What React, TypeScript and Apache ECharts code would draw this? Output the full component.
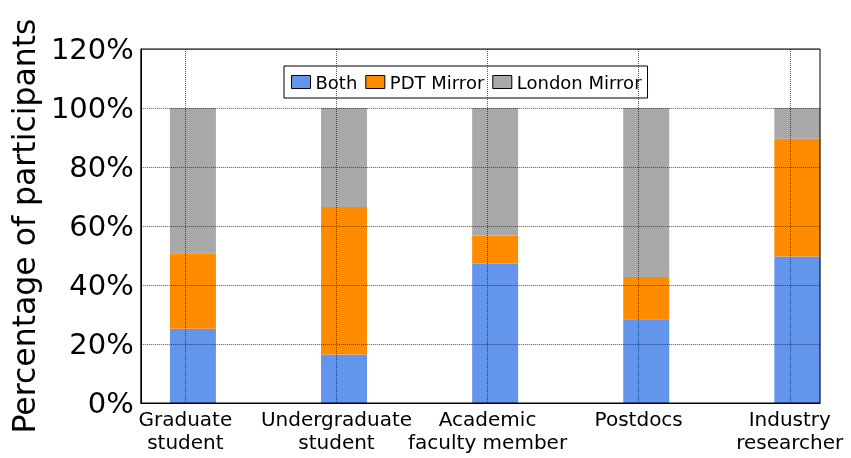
import React, { useEffect, useRef } from "react";
import * as echarts from "echarts";

const categories = ["Graduate\nstudent", "Undergraduate\nstudent", "Academic\nfaculty member", "Postdocs", "Industry\nresearcher"];
const positions = [0, 1, 2, 3, 4];
const both = [25.2, 16.4, 47.3, 28.4, 49.7];
const pdtMirror = [25.6, 50.0, 9.5, 14.3, 39.9];
const londonMirror = [49.2, 33.6, 43.2, 57.3, 10.4];
const yTicks = [0, 20, 40, 60, 80, 100, 120];

const FONT = "DejaVu Sans";
const BAR_SHIFT = 0.05;

export default function App() {
  const ref = useRef<HTMLDivElement>(null);
  useEffect(() => {
    if (!ref.current) return;
    const chart = echarts.init(ref.current, null, { renderer: "svg" });
    const mk = (name: string, vals: number[], color: string) => ({
      name,
      type: "bar",
      stack: "total",
      barWidth: 46,
      itemStyle: { color },
      encode: { x: 1, y: 0 },
      data: vals.map((v, i) => [v, positions[i] + BAR_SHIFT]),
    });
    const gridLine = { show: true, lineStyle: { color: "#222", type: [1, 1], width: 1, opacity: 0.75 } };
    chart.setOption({
      animation: false,
      textStyle: { fontFamily: FONT },
      grid: {
        left: 137.5,
        top: 49,
        right: 31,
        bottom: 55,
        show: true,
        borderColor: "#000",
        borderWidth: 1,
        z: 6,
      },
      legend: {
        left: 284,
        top: 66,
        orient: "horizontal",
        itemWidth: 19,
        itemHeight: 13,
        itemGap: 8,
        padding: [7, 6, 7, 7],
        backgroundColor: "#fff",
        borderColor: "#000",
        borderWidth: 1,
        borderRadius: 0,
        icon: "rect",
        textStyle: { fontFamily: FONT, fontSize: 18, color: "#000", lineHeight: 18 },
        itemStyle: { borderColor: "#000", borderWidth: 1 },
        data: ["Both", "PDT Mirror", "London Mirror"],
      },
      xAxis: {
        type: "value",
        min: -0.295,
        max: 4.2,
        z: 5,
        axisLine: { show: true, onZero: false, lineStyle: { color: "#000", width: 1 } },
        axisTick: { show: false, customValues: positions },
        axisLabel: {
          customValues: positions,
          formatter: (v: number) => categories[Math.round(v)] ?? "",
          fontFamily: FONT,
          fontSize: 20,
          lineHeight: 23,
          color: "#000",
          margin: 4,
        },
        splitLine: gridLine,
      },
      yAxis: {
        type: "value",
        min: 0,
        max: 120,
        interval: 20,
        z: 5,
        name: "Percentage of participants",
        nameLocation: "middle",
        nameGap: 95,
        nameTextStyle: { fontFamily: FONT, fontSize: 31.5, color: "#000" },
        axisLine: { show: true, onZero: false, lineStyle: { color: "#000", width: 1 } },
        axisTick: { show: false },
        axisLabel: {
          formatter: (v: number) => (yTicks.includes(v) ? v + "%" : ""),
          fontFamily: FONT,
          fontSize: 29,
          color: "#000",
          margin: 7,
        },
        splitLine: gridLine,
      },
      series: [
        mk("Both", both, "#6495ED"),
        mk("PDT Mirror", pdtMirror, "#FF8C00"),
        mk("London Mirror", londonMirror, "#A9A9A9"),
      ],
    });
    return () => chart.dispose();
  }, []);
  return <div ref={ref} style={{ position: "fixed", left: 0, top: 0, width: 851, height: 458 }} />;
}
